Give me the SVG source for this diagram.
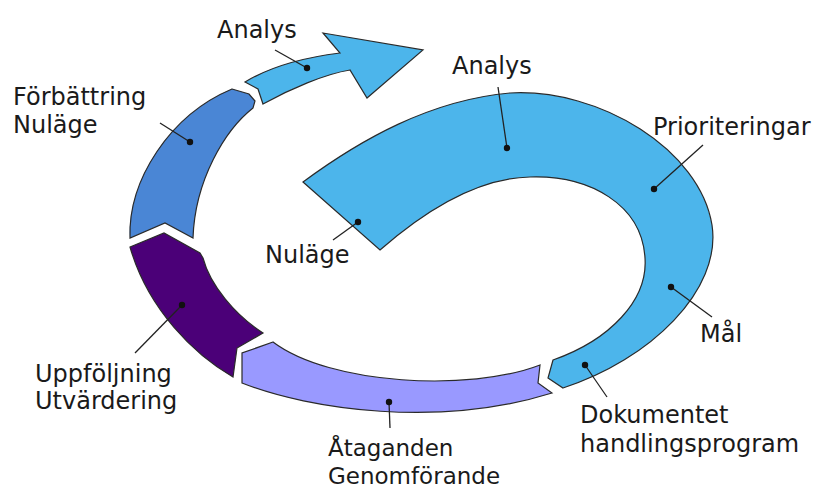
<svg xmlns="http://www.w3.org/2000/svg" width="818" height="490" viewBox="0 0 818 490">
<style>
.seg{stroke:#2a2a2a;stroke-width:1.2;stroke-linejoin:miter}
.lbl{font-family:"DejaVu Sans","Liberation Sans",sans-serif;font-size:24px;fill:#1a1a1a}
.sm{font-size:23px}
.lead{stroke:#222;stroke-width:1.3;fill:none}
.dot{fill:#111}
</style>
<rect width="818" height="490" fill="#fff"/>
<g id="big-blue">
<path class="seg" fill="#4cb5eb" d="M303,182 C360,140 430,100 510,93 C600,88 700,150 712,225 C722,290 650,360 563,388 L548,378 L553,360 C610,340 648,300 645,258 C642,205 590,175 530,177 C475,178 420,215 380,250 Z"/>
</g>
<g id="arrow-analys">
<path class="seg" fill="#4cb5eb" d="M245,82 C268,68 300,58 340,53 L323,33 L423,50 L367,98 L350,70 C325,74 290,89 263,104 L258,89 Z"/>
</g>
<g id="forbattring">
<path class="seg" fill="#4a86d5" d="M232,89 L249,94 L255,101 L253,108 C225,130 195,180 193,238 L165,223 L130,238 C128,180 170,115 232,89 Z"/>
</g>
<g id="uppfoljning">
<path class="seg" fill="#4b0078" d="M130,247 L164,233 L200,253 L203,258 C210,285 235,315 263,333 L237,348 L233,377 C195,355 148,310 130,247 Z"/>
</g>
<g id="ataganden">
<path class="seg" fill="#9999ff" d="M273,342 L242,353 L242,383 C310,410 440,428 552,393 L538,383 L540,365 C470,392 330,385 273,342 Z"/>
</g>
<g id="connectors">
<line class="lead" x1="275" y1="50" x2="307" y2="68"/><circle class="dot" cx="307" cy="68" r="3.2"/>
<line class="lead" x1="160" y1="123" x2="190" y2="142"/><circle class="dot" cx="190" cy="142" r="3.2"/>
<line class="lead" x1="135" y1="353" x2="182" y2="305"/><circle class="dot" cx="182" cy="305" r="3.2"/>
<line class="lead" x1="333" y1="240" x2="358" y2="222"/><circle class="dot" cx="358" cy="222" r="3.2"/>
<line class="lead" x1="498" y1="87" x2="507" y2="148"/><circle class="dot" cx="507" cy="148" r="3.2"/>
<line class="lead" x1="703" y1="145" x2="654" y2="189"/><circle class="dot" cx="654" cy="189" r="3.2"/>
<line class="lead" x1="712" y1="317" x2="671" y2="287"/><circle class="dot" cx="671" cy="287" r="3.2"/>
<line class="lead" x1="607" y1="397" x2="585" y2="365"/><circle class="dot" cx="585" cy="365" r="3.2"/>
<line class="lead" x1="390" y1="428" x2="389" y2="402"/><circle class="dot" cx="389" cy="402" r="3.2"/>
</g>
<g id="labels">
<text class="lbl" x="217" y="38">Analys</text>
<text class="lbl" x="452" y="74">Analys</text>
<text class="lbl" x="13" y="105">Förbättring</text>
<text class="lbl" x="13" y="133">Nuläge</text>
<text class="lbl" x="653" y="135">Prioriteringar</text>
<text class="lbl" x="265" y="263">Nuläge</text>
<text class="lbl" x="700" y="342">Mål</text>
<text class="lbl" x="35" y="382">Uppföljning</text>
<text class="lbl" x="35" y="409">Utvärdering</text>
<text class="lbl" x="580" y="423">Dokumentet</text>
<text class="lbl" x="580" y="452">handlingsprogram</text>
<text class="lbl sm" x="328" y="456">Åtaganden</text>
<text class="lbl sm" x="328" y="484">Genomförande</text>
</g>
</svg>
